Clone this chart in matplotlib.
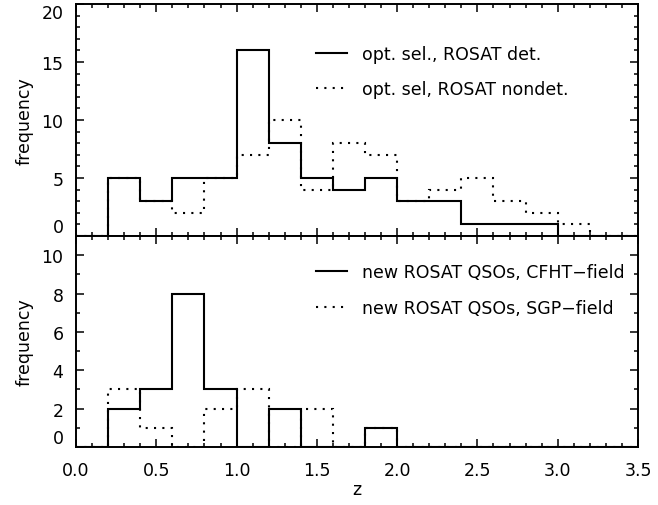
import numpy as np
import matplotlib
matplotlib.use("Agg")
import matplotlib.pyplot as plt
from matplotlib.ticker import MultipleLocator

plt.rcParams['font.family'] = ['DejaVu Sans']

# bin edges (width 0.2 in z)
bin_edges = [0.0, 0.2, 0.4, 0.6, 0.8, 1.0, 1.2, 1.4, 1.6, 1.8, 2.0,
             2.2, 2.4, 2.6, 2.8, 3.0, 3.2, 3.4, 3.6]

# top panel
opt_det = [0, 5, 3, 5, 5, 16, 8, 5, 4, 5, 3, 3, 1, 1, 1, 0, 0, 0]
opt_nondet = [0, 5, 3, 2, 5, 7, 10, 4, 8, 7, 3, 4, 5, 3, 2, 1, 0, 0]
top_labels = ["opt. sel., ROSAT det.", "opt. sel, ROSAT nondet."]

# bottom panel
cfht = [0, 2, 3, 8, 3, 0, 2, 0, 0, 1, 0, 0, 0, 0, 0, 0, 0, 0]
sgp = [0, 3, 1, 0, 2, 3, 0, 2, 0, 1, 0, 0, 0, 0, 0, 0, 0, 0]
bot_labels = ["new ROSAT QSOs, CFHT\u2212field", "new ROSAT QSOs, SGP\u2212field"]

xlabel = "z"
ylabel = "frequency"

FS = 12.5
dotted = (0, (1, 3))

fig = plt.figure(figsize=(6.58, 5.06), dpi=100)
left, right = 76 / 658, 638 / 658
top_y, mid_y, bot_y = 1 - 5 / 506, 1 - 237 / 506, 1 - 448 / 506
ax1 = fig.add_axes([left, mid_y, right - left, top_y - mid_y])
ax2 = fig.add_axes([left, bot_y, right - left, mid_y - bot_y], sharex=ax1)

def style(ax, ymaj, ymin):
    ax.set_xlim(0, 3.5)
    ax.xaxis.set_major_locator(MultipleLocator(0.5))
    ax.xaxis.set_minor_locator(MultipleLocator(0.1))
    ax.yaxis.set_major_locator(MultipleLocator(ymaj))
    ax.yaxis.set_minor_locator(MultipleLocator(ymin))
    ax.tick_params(which='both', direction='in', top=True, right=True,
                   labelsize=FS, width=1.1, color='black')
    ax.tick_params(which='major', length=6)
    ax.tick_params(which='minor', length=3)
    ax.tick_params(axis='y', pad=9)
    ax.tick_params(axis='x', pad=10)
    for s in ax.spines.values():
        s.set_linewidth(1.4)

# top panel
ax1.stairs(opt_det, bin_edges, color='black', lw=1.5, label=top_labels[0])
ax1.stairs(opt_nondet, bin_edges, color='black', lw=1.5, linestyle=dotted,
           label=top_labels[1])
ax1.set_ylim(0, 20)
style(ax1, 5, 1)
ax1.tick_params(axis='x', labelbottom=False)
ax1.set_ylabel(ylabel, fontsize=FS, labelpad=6)

# bottom panel
ax2.stairs(cfht, bin_edges, color='black', lw=1.5, label=bot_labels[0])
ax2.stairs(sgp, bin_edges, color='black', lw=1.5, linestyle=dotted,
           label=bot_labels[1])
ax2.set_ylim(0, 11)
style(ax2, 2, 1)
ax2.set_xlabel(xlabel, fontsize=FS, labelpad=1)
ax2.set_ylabel(ylabel, fontsize=FS, labelpad=6)

for ax, yb in ((ax1, 0.825), (ax2, 0.87)):
    ax.legend(loc='upper left', bbox_to_anchor=(0.427, yb), frameon=False,
              fontsize=FS, handlelength=1.8, handletextpad=0.85,
              labelspacing=1.0, borderpad=0, borderaxespad=0)

fig.canvas.draw()
# keep edge tick labels inside the panel like the original
for t in ax1.get_yticklabels():
    if t.get_text() == '0':
        t.set_va('bottom')
    elif t.get_text() == '20':
        t.set_va('top')
for t in ax2.get_yticklabels():
    if t.get_text() == '0':
        t.set_va('bottom')

fig.savefig("out.png", dpi=100)
